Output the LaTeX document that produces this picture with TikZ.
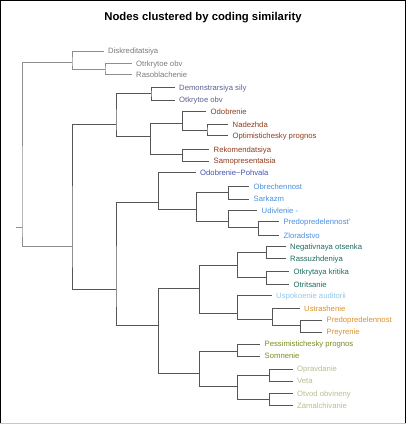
\documentclass[tikz,border=0pt]{standalone}
\usepackage{fontspec}
\setmainfont{Liberation Sans}
\definecolor{linedark}{HTML}{555555}
\definecolor{linelight}{HTML}{8E8E8E}
\definecolor{cgray}{HTML}{7A7A7A}
\definecolor{cslate}{HTML}{5D6090}
\definecolor{cbrown}{HTML}{8F3B1C}
\definecolor{cblue}{HTML}{4352B2}
\definecolor{clblue}{HTML}{4A8FDC}
\definecolor{cteal}{HTML}{1D6B5E}
\definecolor{csky}{HTML}{90C8EA}
\definecolor{corange}{HTML}{D9902A}
\definecolor{colive}{HTML}{7D8A1F}
\definecolor{ckhaki}{HTML}{B5BF8F}
\begin{document}
\begin{tikzpicture}[x=1pt,y=-1pt,
	lnk/.style={draw=linedark,line width=0.8pt},
	lnklight/.style={draw=linelight,line width=0.8pt},
	leaf/.style={anchor=west,inner xsep=4.5pt,inner ysep=0pt,text height=5.5pt,text depth=0pt,font=\fontsize{7.7}{9}\selectfont}]
	\useasboundingbox (0,0) rectangle (406,425);
	\draw[line width=1pt] (0.5,423) -- (0.5,0.5) -- (405.5,0.5) -- (405.5,423);
	\draw[gray!45,line width=1pt] (0,423.5) -- (406,423.5);
	\node[anchor=base,font=\fontsize{11.3}{13}\selectfont\bfseries] (title) at (203,20.7) {Nodes clustered by coding similarity};

	\node[leaf,text=cgray] (l1) at (103.5,51) {Diskreditatsiya};
	\node[leaf,text=cgray] (l2) at (131.5,63.3) {Otrkrytoe obv};
	\node[leaf,text=cgray] (l3) at (131.5,74.7) {Rasoblachenie};
	\node[leaf,text=cslate] (l4) at (174.5,87.7) {Demonstrarsiya sily};
	\node[leaf,text=cslate] (l5) at (174.5,100) {Otkrytoe obv};
	\node[leaf,text=cbrown] (l6) at (206,111.7) {Odobrenie};
	\node[leaf,text=cbrown] (l7) at (228,124.3) {Nadezhda};
	\node[leaf,text=cbrown] (l8) at (228,135.7) {Optimistichesky prognos};
	\node[leaf,text=cbrown] (l9) at (209,149.3) {Rekomendatsiya};
	\node[leaf,text=cbrown] (l10) at (209,161) {Samopresentatsia};
	\node[leaf,text=cblue] (l11) at (195.5,172.3) {Odobrenie\textasciitilde Pohvala};
	\node[leaf,text=clblue] (l12) at (249,186.7) {Obrechennost};
	\node[leaf,text=clblue] (l13) at (249,199) {Sarkazm};
	\node[leaf,text=clblue] (l14) at (257,210.7) {Udivlenie -};
	\node[leaf,text=clblue] (l15) at (279,221.5) {Predopredelennost'};
	\node[leaf,text=clblue] (l16) at (279,235.5) {Zloradstvo};
	\node[leaf,text=cteal] (l17) at (285.5,246.7) {Negativnaya otsenka};
	\node[leaf,text=cteal] (l18) at (285.5,258.3) {Rassuzhdeniya};
	\node[leaf,text=cteal] (l19) at (289,271.7) {Otkrytaya kritika};
	\node[leaf,text=cteal] (l20) at (289,284.3) {Otritsanie};
	\node[leaf,text=csky] (l21) at (271.5,295.5) {Uspokoenie auditorii};
	\node[leaf,text=corange] (l22) at (299.5,308.3) {Ustrashenie};
	\node[leaf,text=corange] (l23) at (322,320) {Predopredelennost};
	\node[leaf,text=corange] (l24) at (322,332) {Preyrenie};
	\node[leaf,text=colive] (l25) at (260,344) {Pessimistichesky prognos};
	\node[leaf,text=colive] (l26) at (260,356.2) {Somnenie};
	\node[leaf,text=ckhaki] (l27) at (292.5,369) {Opravdanie};
	\node[leaf,text=ckhaki] (l28) at (292.5,381) {Veta};
	\node[leaf,text=ckhaki] (l29) at (292.5,393.3) {Otvod obvineny};
	\node[leaf,text=ckhaki] (l30) at (292.5,405.3) {Zamalchivanie};

	\coordinate (stub) at (16,227.7);
	\coordinate (root) at (22,227.7);
	\coordinate (nA) at (72,62.7);
	\coordinate (nA1) at (105,69);
	\coordinate (nB) at (72,246);
	\coordinate (nC) at (116,124.3);
	\coordinate (nC1) at (151,93.5);
	\coordinate (nC2) at (150.5,136.7);
	\coordinate (nC3) at (182.7,123);
	\coordinate (nC4) at (182.7,154.5);
	\coordinate (nC5) at (207,130);
	\coordinate (nD) at (116,289);
	\coordinate (nE) at (158.3,202.7);
	\coordinate (nE1) at (196.7,209.3);
	\coordinate (nE2) at (228.3,192);
	\coordinate (nE3) at (228.3,221.7);
	\coordinate (nE4) at (258.3,227);
	\coordinate (nF) at (158.3,325.7);
	\coordinate (nG) at (199.3,288.3);
	\coordinate (nG1) at (237.3,265);
	\coordinate (nG2) at (237.3,313.3);
	\coordinate (nG3) at (266.7,252.7);
	\coordinate (nG4) at (266.7,277);
	\coordinate (nG5) at (272.7,319.3);
	\coordinate (nG6) at (300.7,325.5);
	\coordinate (nH) at (199.3,373.3);
	\coordinate (nH1) at (237.3,351);
	\coordinate (nH2) at (237.3,386.7);
	\coordinate (nH3) at (269.3,375);
	\coordinate (nH4) at (269.3,399);

	\draw[lnklight] (stub) -- (root);
	\draw[lnklight] (nA) -| (root) |- (nB);
	\draw[lnklight] (l1.west) -| (nA) |- (nA1);
	\draw[lnklight] (l2.west) -| (nA1) |- (l3.west);
	\draw[lnk] (nC) -| (nB) |- (nD);
	\draw[lnk] (nC1) -| (nC) |- (nC2);
	\draw[lnk] (l4.west) -| (nC1) |- (l5.west);
	\draw[lnk] (nC3) -| (nC2) |- (nC4);
	\draw[lnk] (l6.west) -| (nC3) |- (nC5);
	\draw[lnk] (l7.west) -| (nC5) |- (l8.west);
	\draw[lnk] (l9.west) -| (nC4) |- (l10.west);
	\draw[lnk] (nE) -| (nD) |- (nF);
	\draw[lnk] (l11.west) -| (nE) |- (nE1);
	\draw[lnk] (nE2) -| (nE1) |- (nE3);
	\draw[lnk] (l12.west) -| (nE2) |- (l13.west);
	\draw[lnk] (l14.west) -| (nE3) |- (nE4);
	\draw[lnk] (l15.west) -| (nE4) |- (l16.west);
	\draw[lnk] (nG) -| (nF) |- (nH);
	\draw[lnk] (nG1) -| (nG) |- (nG2);
	\draw[lnk] (nG3) -| (nG1) |- (nG4);
	\draw[lnk] (l17.west) -| (nG3) |- (l18.west);
	\draw[lnk] (l19.west) -| (nG4) |- (l20.west);
	\draw[lnk] (l21.west) -| (nG2) |- (nG5);
	\draw[lnk] (l22.west) -| (nG5) |- (nG6);
	\draw[lnk] (l23.west) -| (nG6) |- (l24.west);
	\draw[lnk] (nH1) -| (nH) |- (nH2);
	\draw[lnk] (l25.west) -| (nH1) |- (l26.west);
	\draw[lnk] (nH3) -| (nH2) |- (nH4);
	\draw[lnk] (l27.west) -| (nH3) |- (l28.west);
	\draw[lnk] (l29.west) -| (nH4) |- (l30.west);
\end{tikzpicture}
\end{document}
